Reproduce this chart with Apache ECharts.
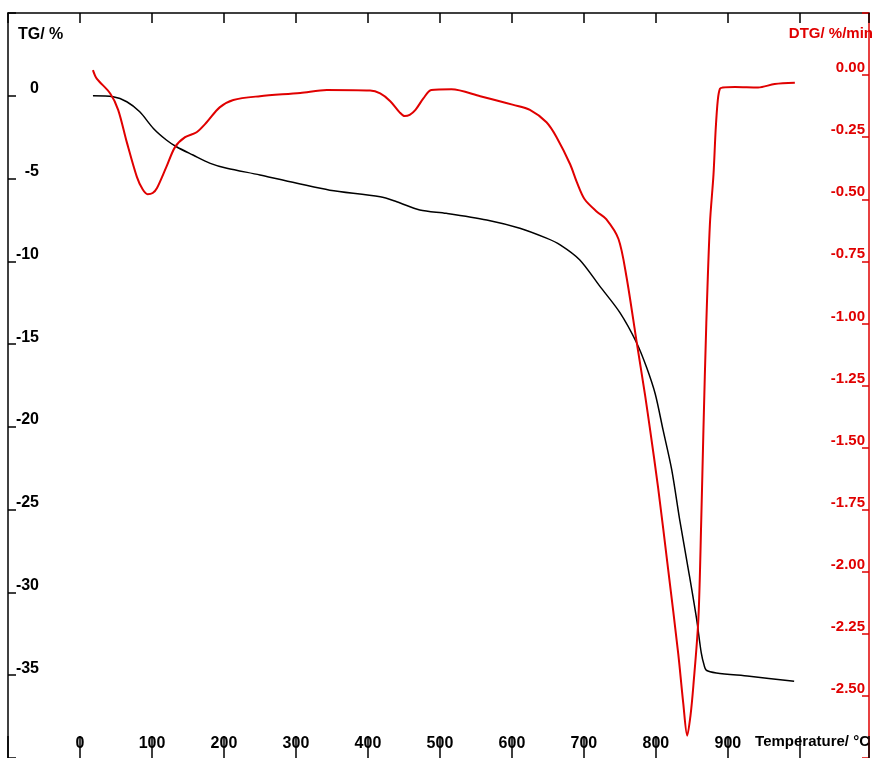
<!DOCTYPE html>
<html>
<head>
<meta charset="utf-8">
<script src="https://cdn.jsdelivr.net/npm/echarts@6/dist/echarts.min.js"></script>
<style>
html,body{margin:0;padding:0;background:#fff;}
#chart{width:875px;height:758px;}
</style>
</head>
<body>
<div id="chart"></div>
<script>
// Temperature (°C) and TG (%)
const tgTemp  = [18, 46, 65, 83, 102, 120, 134, 157, 181, 204, 250, 306, 347, 417, 440, 472, 509, 565, 611, 648, 667, 694, 722, 750, 773, 787, 799, 810, 822, 833, 845, 856.5, 863, 867, 870, 884, 930, 992];
const tgValue = [0, -0.06, -0.36, -0.97, -1.97, -2.67, -3.08, -3.58, -4.08, -4.38, -4.78, -5.33, -5.7, -6.1, -6.4, -6.9, -7.1, -7.5, -8.0, -8.6, -9.0, -9.9, -11.5, -13.1, -14.9, -16.4, -18.0, -20.2, -22.6, -25.6, -28.6, -31.6, -33.65, -34.4, -34.7, -34.86, -35.06, -35.37];

// Temperature (°C) and DTG (%/min)
const dtgTemp  = [18, 23, 42, 53, 65, 79, 87, 94, 101, 107, 120, 132, 146, 162, 176, 194, 213, 250, 306, 343, 403, 417, 431, 444, 451, 458, 466, 477, 488, 516, 556, 602, 625, 648, 662, 681, 690, 701, 718, 731, 748, 759, 773, 785, 792, 803, 817, 831, 838, 843.5, 848, 852, 859, 863, 866, 870, 875, 880, 883, 886, 889, 893, 910, 942, 965, 993];
const dtgValue = [0.02, -0.013, -0.074, -0.14, -0.27, -0.41, -0.46, -0.48, -0.475, -0.455, -0.37, -0.29, -0.25, -0.23, -0.19, -0.13, -0.10, -0.085, -0.072, -0.060, -0.062, -0.074, -0.105, -0.150, -0.165, -0.16, -0.14, -0.094, -0.060, -0.057, -0.085, -0.12, -0.14, -0.19, -0.25, -0.36, -0.43, -0.50, -0.55, -0.58, -0.66, -0.81, -1.07, -1.29, -1.43, -1.66, -1.99, -2.33, -2.53, -2.66, -2.58, -2.46, -2.19, -1.79, -1.43, -1.0, -0.60, -0.40, -0.22, -0.10, -0.055, -0.05, -0.048, -0.05, -0.036, -0.031];

const xTickLabels = ['0', '100', '200', '300', '400', '500', '600', '700', '800', '900'];
const tgTickLabels = ['0', '-5', '-10', '-15', '-20', '-25', '-30', '-35'];
const dtgTickLabels = ['0.00', '-0.25', '-0.50', '-0.75', '-1.00', '-1.25', '-1.50', '-1.75', '-2.00', '-2.25', '-2.50'];

const FONT = '"Liberation Sans", Arial, sans-serif';
const RED = '#e00000';

const chart = echarts.init(document.getElementById('chart'), null, {renderer: 'canvas'});

function pick(list, fmt) {
  return function (v) {
    const s = fmt(v);
    return list.indexOf(s) >= 0 ? s : '';
  };
}

const option = {
  backgroundColor: '#ffffff',
  animation: false,
  grid: {left: 8, right: 6, top: 13, bottom: 0, containLabel: false},
  xAxis: [
    {
      type: 'value', position: 'bottom', min: -100, max: 1096, interval: 100,
      axisLine: {show: false, onZero: false},
      axisTick: {show: true, inside: true, length: 22, lineStyle: {color: '#000', width: 1.5}},
      splitLine: {show: false},
      axisLabel: {
        inside: true, margin: 6, color: '#000', fontFamily: FONT, fontWeight: 'bold', fontSize: 16,
        showMinLabel: true, showMaxLabel: true,
        formatter: pick(xTickLabels, v => String(Math.round(v)))
      }
    },
    {
      type: 'value', position: 'top', min: -100, max: 1096, interval: 100,
      axisLine: {show: true, onZero: false, lineStyle: {color: '#000', width: 1.5}},
      axisTick: {show: true, inside: true, length: 10, lineStyle: {color: '#000', width: 1.5}},
      splitLine: {show: false},
      axisLabel: {show: false}
    }
  ],
  yAxis: [
    {
      type: 'value', position: 'left', min: -40, max: 5, interval: 5,
      axisLine: {show: true, onZero: false, lineStyle: {color: '#000', width: 1.5}},
      axisTick: {show: true, inside: true, length: 8, lineStyle: {color: '#000', width: 1.5}},
      splitLine: {show: false},
      axisLabel: {
        inside: true, margin: 31, align: 'right', verticalAlign: 'bottom', lineHeight: 14,
        color: '#000', fontFamily: FONT, fontWeight: 'bold', fontSize: 16,
        showMinLabel: true, showMaxLabel: true,
        formatter: pick(tgTickLabels, v => String(Math.round(v)))
      }
    },
    {
      type: 'value', position: 'right', min: -2.75, max: 0.25, interval: 0.25,
      axisLine: {show: true, onZero: false, lineStyle: {color: RED, width: 1.5}},
      axisTick: {show: true, inside: true, length: 7, lineStyle: {color: RED, width: 1.5}},
      splitLine: {show: false},
      axisLabel: {
        inside: true, margin: 4, align: 'right', verticalAlign: 'bottom', lineHeight: 14,
        color: RED, fontFamily: FONT, fontWeight: 'bold', fontSize: 15,
        showMinLabel: true, showMaxLabel: true,
        formatter: pick(dtgTickLabels, v => (Math.abs(v) < 1e-9 ? 0 : v).toFixed(2))
      }
    }
  ],
  graphic: [
    {type: 'text', left: 18, top: 27, style: {text: 'TG/ %', fill: '#000', font: 'bold 16px ' + FONT}},
    {type: 'text', right: 2, top: 26, style: {text: 'DTG/ %/min', fill: RED, font: 'bold 15px ' + FONT}},
    {type: 'text', right: 5, top: 734, style: {text: 'Temperature/ \u00B0C', fill: '#000', font: 'bold 15px ' + FONT}}
  ],
  series: [
    {
      name: 'TG', type: 'line', xAxisIndex: 0, yAxisIndex: 0,
      data: tgTemp.map((t, i) => [t, tgValue[i]]),
      showSymbol: false, smooth: 0.3,
      lineStyle: {color: '#000', width: 1.5}
    },
    {
      name: 'DTG', type: 'line', xAxisIndex: 0, yAxisIndex: 1,
      data: dtgTemp.map((t, i) => [t, dtgValue[i]]),
      showSymbol: false, smooth: 0.3,
      lineStyle: {color: RED, width: 2}
    }
  ]
};
chart.setOption(option);
</script>
</body>
</html>
